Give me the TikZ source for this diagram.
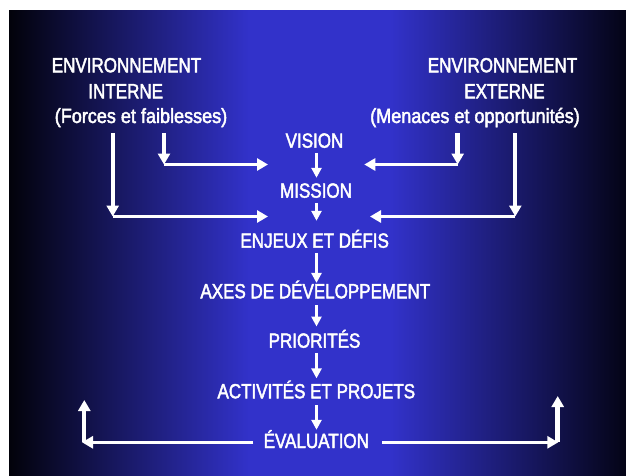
\documentclass[tikz,border=0pt]{standalone}
\usepackage{fontspec}
\setmainfont{Liberation Sans}[FakeStretch=0.83,FakeBold=2.2]
\newfontfamily\lowerfont{Liberation Sans}[FakeStretch=0.88,FakeBold=2.2]
\usetikzlibrary{arrows.meta,calc}
\definecolor{edgeL}{RGB}{2,2,10}
\definecolor{edgeR}{RGB}{4,4,22}
\definecolor{midblue}{RGB}{50,50,202}
\pgfdeclarehorizontalshading{bgshade}{100bp}{color(0bp)=(edgeL); color(25bp)=(edgeL); color(44.5bp)=(midblue); color(55.9bp)=(midblue); color(75bp)=(edgeR); color(100bp)=(edgeR)}
\tikzset{
  lbl/.style={text=white, font=\fontsize{20.5}{24}\selectfont, inner sep=5pt,
    text height=14.7pt, text depth=0pt, anchor=base},
  lowlbl/.style={lbl, font=\fontsize{20.5}{24}\selectfont\lowerfont},
  flow/.style={draw=white, line width=2.8pt, -{Triangle[length=10pt,width=10pt]}},
  sidearr/.style={draw=white, line width=3.2pt, -{Triangle[length=11pt,width=12pt]}},
  vthick/.style={line width=4pt},
  vthicker/.style={line width=5pt}
}
\begin{document}
\begin{tikzpicture}[x=1pt,y=-1pt]
\useasboundingbox (0,0) rectangle (626,476);
\fill[white] (0,0) rectangle (626,476);
\shade[shading=bgshade] (9,11) rectangle (626,476);

% left and right headers
\node[lbl] (envL1) at (126.5,72.3) {ENVIRONNEMENT};
\node[lbl] (envL2) at (125.7,98.3) {INTERNE};
\node[lowlbl] (envL3) at (141,123) {(Forces et faiblesses)};
\node[lbl] (envR1) at (502.5,72.3) {ENVIRONNEMENT};
\node[lbl] (envR2) at (504.5,98.3) {EXTERNE};
\node[lowlbl] (envR3) at (475,123) {(Menaces et opportunités)};

% central column
\node[lbl] (vision) at (314.5,147.7) {VISION};
\node[lbl] (mission) at (316,197.7) {MISSION};
\node[lbl] (enjeux) at (314.7,247.7) {ENJEUX ET DÉFIS};
\node[lbl] (axes) at (315.3,298.3) {AXES DE DÉVELOPPEMENT};
\node[lbl] (prio) at (314.5,347.7) {PRIORITÉS};
\node[lbl] (activ) at (316.3,398.3) {ACTIVITÉS ET PROJETS};
\node[lbl] (eval) at (316.3,448) {ÉVALUATION};

\coordinate (spine) at (316.5,0);
\draw[flow] (vision.south -| spine) -- (mission.north -| spine);
\draw[flow] (mission.south -| spine) -- ($(enjeux.north -| spine)+(0,-7)$);
\draw[flow] (enjeux.south -| spine) -- ($(axes.north -| spine)+(0,4.5)$);
\draw[flow] ($(axes.south -| spine)+(0,1.7)$) -- ($(prio.north -| spine)+(0,-1.3)$);
\draw[flow] (prio.south -| spine) -- (activ.north -| spine);
\draw[flow] ($(activ.south -| spine)+(0,1.7)$) -- ($(eval.north -| spine)+(0,1.7)$);

% side connectors
\coordinate (li0) at (164,133);   \coordinate (li1) at (164,164.5); \coordinate (lit) at (268,164.5);
\coordinate (lo0) at (112.7,133); \coordinate (lo1) at (112.7,216.5); \coordinate (lot) at (268,216.5);
\coordinate (ri0) at (457.7,133); \coordinate (ri1) at (457.7,164.5); \coordinate (rit) at (364.3,164.5);
\coordinate (ro0) at (515.3,133); \coordinate (ro1) at (515.3,216.5); \coordinate (rot) at (370,216.5);

\draw[sidearr,vthick] (li0) -- (li1);
\draw[sidearr] (li1) -- (lit);
\draw[sidearr,vthick] (lo0) -- (lo1);
\draw[sidearr] (lo1) -- (lot);
\draw[sidearr,vthicker] (ri0) -- (ri1);
\draw[sidearr] (ri1) -- (rit);
\draw[sidearr,vthick] (ro0) -- (ro1);
\draw[sidearr] (ro1) -- (rot);

% evaluation feedback
\coordinate (blt) at (82,442.3);
\coordinate (blc) at (84.3,442.3);
\coordinate (blu) at (84.3,400);
\coordinate (brt) at (558.3,442.3);
\coordinate (brc) at (557.7,442.3);
\coordinate (bru) at (557.7,396);
\draw[sidearr] ($(eval.base west)+(-5,-5.7)$) -- (blt);
\draw[sidearr,vthick] (blc) -- (blu);
\draw[sidearr] ($(eval.base east)+(8,-5.7)$) -- (brt);
\draw[sidearr,vthicker] (brc) -- (bru);
\end{tikzpicture}
\end{document}
